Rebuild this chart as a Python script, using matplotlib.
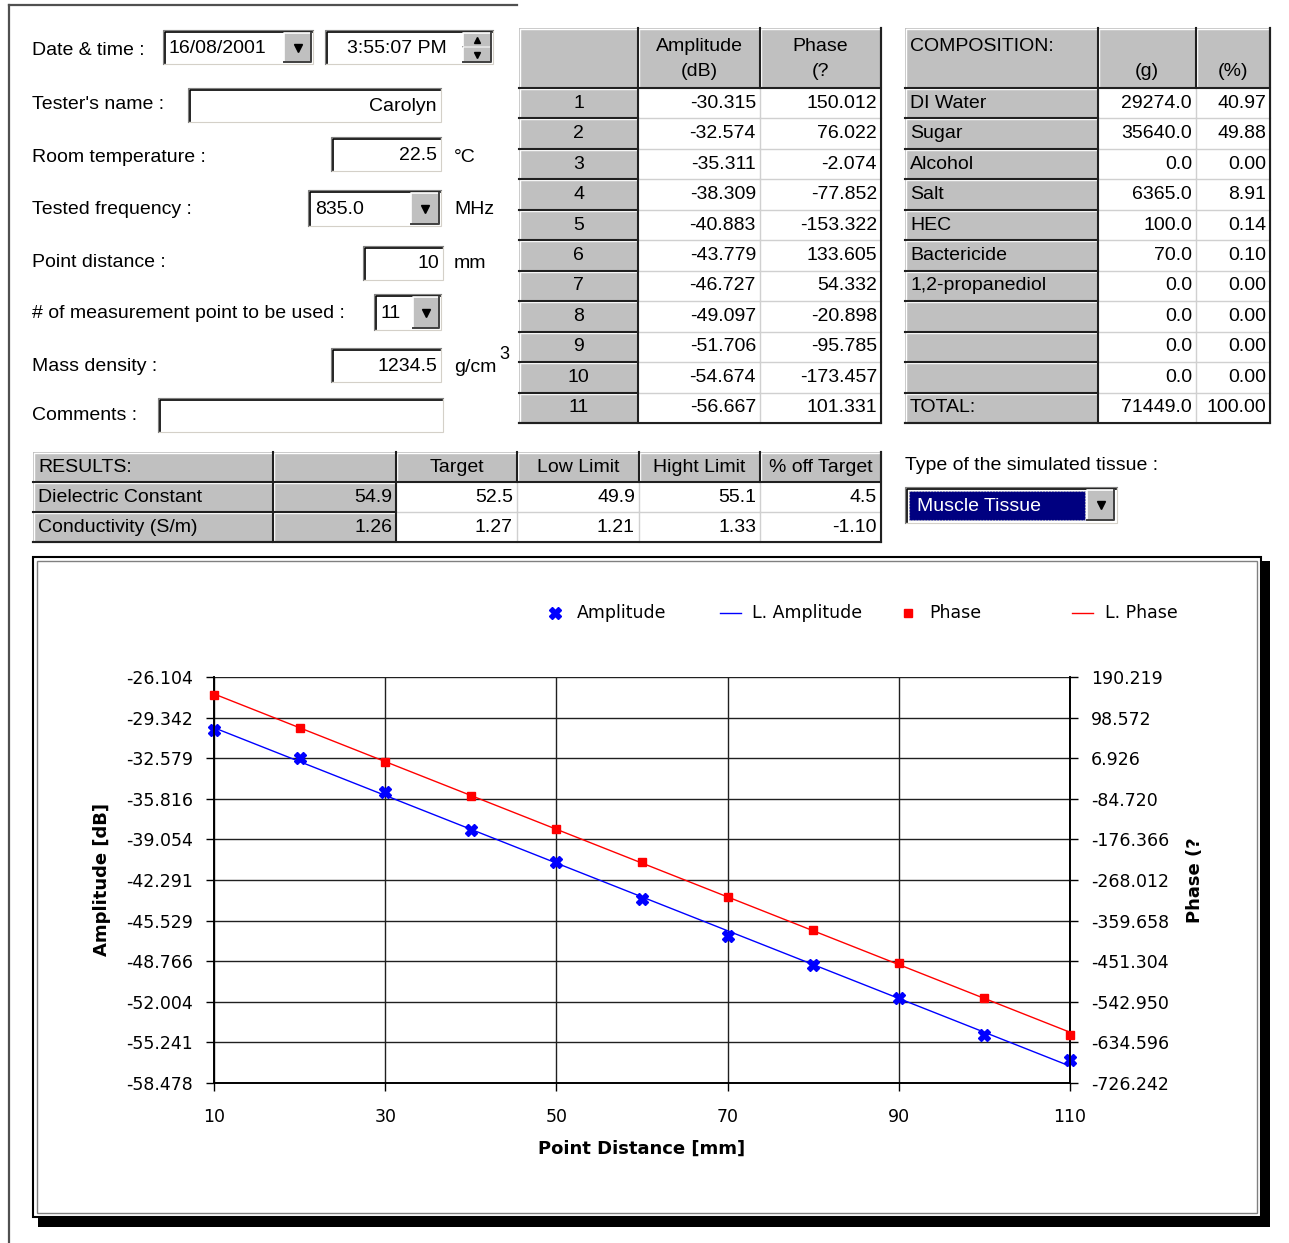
import numpy as np
import matplotlib
matplotlib.use('Agg')
import matplotlib.pyplot as plt
from matplotlib.patches import Rectangle

# ---- measurement table / chart data ----
points = [1, 2, 3, 4, 5, 6, 7, 8, 9, 10, 11]
distance_mm = [10, 20, 30, 40, 50, 60, 70, 80, 90, 100, 110]
amplitude_db = [-30.315, -32.574, -35.311, -38.309, -40.883, -43.779,
                -46.727, -49.097, -51.706, -54.674, -56.667]
phase_deg = [150.012, 76.022, -2.074, -77.852, -153.322, 133.605,
             54.332, -20.898, -95.785, -173.457, 101.331]

# linear trend lines (end values)
trend_x = [10, 110]
trend_amp = [-30.15, -57.13]
trend_phase = [152.0, -611.7]

amp_ticks = [-26.104, -29.342, -32.579, -35.816, -39.054, -42.291,
             -45.529, -48.766, -52.004, -55.241, -58.478]
phase_ticks = [190.219, 98.572, 6.926, -84.720, -176.366, -268.012,
               -359.658, -451.304, -542.950, -634.596, -726.242]
x_ticks = [10, 30, 50, 70, 90, 110]

# ---- composition table ----
comp_names = ['DI Water', 'Sugar', 'Alcohol', 'Salt', 'HEC', 'Bactericide',
              '1,2-propanediol', '', '', '', 'TOTAL:']
comp_grams = [29274.0, 35640.0, 0.0, 6365.0, 100.0, 70.0, 0.0, 0.0, 0.0, 0.0, 71449.0]
comp_pct = [40.97, 49.88, 0.00, 8.91, 0.14, 0.10, 0.00, 0.00, 0.00, 0.00, 100.00]

# ---- results table ----
results_header = ['RESULTS:', '', 'Target', 'Low Limit', 'Hight Limit', '% off Target']
results_names = ['Dielectric Constant', 'Conductivity (S/m)']
results_measured = ['54.9', '1.26']
results_target = ['52.5', '1.27']
results_low = ['49.9', '1.21']
results_high = ['55.1', '1.33']
results_off = ['4.5', '-1.10']

W, H = 1289, 1243
GRAY = '#c0c0c0'
FORM_FONT = 'Liberation Sans'
FS = 14
CFS = 12.5

plt.rcParams['font.family'] = 'DejaVu Sans'
fig = plt.figure(figsize=(W / 100, H / 100), dpi=100)
fig.patch.set_facecolor('white')

ui = fig.add_axes([0, 0, 1, 1])
ui.set_xlim(0, W)
ui.set_ylim(H, 0)
ui.axis('off')


def label(x, y, s, ha='left', color='black', size=FS):
    ui.text(x, y, s, ha=ha, va='center', fontsize=size, family=FORM_FONT,
            color=color, zorder=10)


def sunken(x0, y0, x1, y1, fill='white'):
    ui.add_patch(Rectangle((x0, y0), x1 - x0, y1 - y0, facecolor=fill,
                           edgecolor='#d4d0c8', lw=0.8, zorder=1))
    ui.plot([x0, x0, x1], [y1, y0, y0], color='#808080', lw=0.8, zorder=2)
    ui.plot([x0 + 1.5, x0 + 1.5, x1 - 1.5], [y1 - 1.5, y0 + 1.5, y0 + 1.5],
            color='black', lw=1.2, zorder=2)


def raised(x0, y0, x1, y1, marker=None, ms=6):
    ui.add_patch(Rectangle((x0, y0), x1 - x0, y1 - y0, facecolor=GRAY,
                           edgecolor='none', zorder=3))
    ui.plot([x0, x0, x1], [y1, y0, y0], color='white', lw=1.2, zorder=4)
    ui.plot([x0, x1, x1], [y1, y1, y0], color='#404040', lw=1.4, zorder=4)
    if marker:
        ui.plot((x0 + x1) / 2, (y0 + y1) / 2, marker=marker, color='black',
                ms=ms, zorder=5)


def cell(x0, y0, x1, y1, text='', ha='right', gray=False):
    if gray:
        ui.add_patch(Rectangle((x0, y0), x1 - x0, y1 - y0, facecolor=GRAY,
                               edgecolor='none', zorder=1))
        ui.plot([x0 + 1, x0 + 1, x1], [y1, y0 + 1, y0 + 1], color='white', lw=1, zorder=2)
        ui.plot([x0, x1, x1], [y1, y1, y0], color='#202020', lw=1.5, zorder=3)
    else:
        ui.add_patch(Rectangle((x0, y0), x1 - x0, y1 - y0, facecolor='white',
                               edgecolor='none', zorder=1))
        ui.plot([x0, x1, x1], [y1, y1, y0], color='#d0d0d0', lw=1, zorder=2)
    if text != '':
        if ha == 'right':
            label(x1 - 4, (y0 + y1) / 2, text, ha='right')
        elif ha == 'left':
            label(x0 + 5, (y0 + y1) / 2, text, ha='left')
        else:
            label((x0 + x1) / 2, (y0 + y1) / 2, text, ha='center')


# ---- form frame ----
ui.plot([9, 9], [5, H], color='#505050', lw=1.6, zorder=2)
ui.plot([9, 517], [5, 5], color='#505050', lw=1.6, zorder=2)

# ---- input fields ----
label(32, 50, 'Date & time :')
sunken(163, 30, 313, 64)
label(169, 48, '16/08/2001')
raised(284, 33, 311, 62, 'v')
sunken(325, 30, 493, 64)
label(447, 48, '3:55:07 PM', ha='right')
raised(463, 33, 491, 47, '^', 4)
raised(463, 47, 491, 62, 'v', 4)

label(32, 104, "Tester's name :")
sunken(188, 88, 441, 122)
label(437, 106, 'Carolyn', ha='right')

label(32, 157, 'Room temperature :')
sunken(331, 137, 441, 171)
label(437, 155, '22.5', ha='right')
label(454, 157, '°C')

label(32, 209, 'Tested frequency :')
sunken(308, 190, 441, 226)
label(315, 209, '835.0')
raised(411, 193, 439, 224, 'v')
label(454, 209, 'MHz')

label(32, 262, 'Point distance :')
sunken(363, 246, 443, 280)
label(439, 263, '10', ha='right')
label(454, 263, 'mm')

label(32, 313, '# of measurement point to be used :')
sunken(374, 294, 441, 330)
label(380, 313, '11')
raised(413, 297, 439, 328, 'v')

label(32, 366, 'Mass density :')
sunken(331, 348, 441, 382)
label(437, 366, '1234.5', ha='right')
label(454, 367, 'g/cm')
label(499, 354, '3', size=13)

label(32, 415, 'Comments :')
sunken(158, 398, 443, 432)

# ---- measurement table ----
mcols = [519, 638, 760, 881]
row_top = 88
row_h = (423 - 88) / len(points)
cell(mcols[0], 28, mcols[1], row_top, gray=True)
cell(mcols[1], 28, mcols[2], row_top, gray=True)
cell(mcols[2], 28, mcols[3], row_top, gray=True)
label((mcols[1] + mcols[2]) / 2, 46, 'Amplitude', ha='center')
label((mcols[1] + mcols[2]) / 2, 71, '(dB)', ha='center')
label((mcols[2] + mcols[3]) / 2, 46, 'Phase', ha='center')
label((mcols[2] + mcols[3]) / 2, 71, '(?', ha='center')
for i, (p, a, ph) in enumerate(zip(points, amplitude_db, phase_deg)):
    y0 = row_top + i * row_h
    y1 = y0 + row_h
    cell(mcols[0], y0, mcols[1], y1, str(p), ha='center', gray=True)
    cell(mcols[1], y0, mcols[2], y1, f'{a:.3f}')
    cell(mcols[2], y0, mcols[3], y1, f'{ph:.3f}')
ui.plot([mcols[3], mcols[3]], [28, 423], color='#202020', lw=1.5, zorder=3)
ui.plot([mcols[0], mcols[3]], [423, 423], color='#202020', lw=1.5, zorder=3)

# ---- composition table ----
ccols = [905, 1098, 1196, 1270]
cell(ccols[0], 28, ccols[1], row_top, gray=True)
cell(ccols[1], 28, ccols[2], row_top, gray=True)
cell(ccols[2], 28, ccols[3], row_top, gray=True)
label(ccols[0] + 5, 46, 'COMPOSITION:')
label((ccols[1] + ccols[2]) / 2, 71, '(g)', ha='center')
label((ccols[2] + ccols[3]) / 2, 71, '(%)', ha='center')
for i, (n, g, pc) in enumerate(zip(comp_names, comp_grams, comp_pct)):
    y0 = row_top + i * row_h
    y1 = y0 + row_h
    cell(ccols[0], y0, ccols[1], y1, n, ha='left', gray=True)
    cell(ccols[1], y0, ccols[2], y1, f'{g:.1f}')
    cell(ccols[2], y0, ccols[3], y1, f'{pc:.2f}')
ui.plot([ccols[3], ccols[3]], [28, 423], color='#202020', lw=1.5, zorder=3)
ui.plot([ccols[0], ccols[3]], [423, 423], color='#202020', lw=1.5, zorder=3)

# ---- results table ----
rcols = [33, 273, 396, 517, 639, 760, 881]
rrows = [452, 482, 512, 542]
for j, h in enumerate(results_header):
    cell(rcols[j], rrows[0], rcols[j + 1], rrows[1], h,
         ha='left' if j == 0 else 'center', gray=True)
for i, name in enumerate(results_names):
    y0, y1 = rrows[i + 1], rrows[i + 2]
    cell(rcols[0], y0, rcols[1], y1, name, ha='left', gray=True)
    cell(rcols[1], y0, rcols[2], y1, results_measured[i], gray=True)
    cell(rcols[2], y0, rcols[3], y1, results_target[i])
    cell(rcols[3], y0, rcols[4], y1, results_low[i])
    cell(rcols[4], y0, rcols[5], y1, results_high[i])
    cell(rcols[5], y0, rcols[6], y1, results_off[i])
ui.plot([rcols[6], rcols[6]], [rrows[0], rrows[3]], color='#202020', lw=1.5, zorder=3)
ui.plot([rcols[0], rcols[6]], [rrows[3], rrows[3]], color='#202020', lw=1.5, zorder=3)

# ---- tissue selector ----
label(905, 465, 'Type of the simulated tissue :')
sunken(905, 487, 1117, 523)
ui.add_patch(Rectangle((909, 491), 176, 29, facecolor='#000080',
                       edgecolor='#c8c8c8', lw=0.8, ls=':', zorder=3))
label(917, 506, 'Muscle Tissue', color='white')
raised(1087, 490, 1114, 520, 'v')

# ---- chart panel frame ----
ui.add_patch(Rectangle((1262, 561), 8, 666, facecolor='black', edgecolor='none', zorder=1))
ui.add_patch(Rectangle((38, 1217), 1232, 10, facecolor='black', edgecolor='none', zorder=1))
ui.add_patch(Rectangle((33, 557), 1228, 660, facecolor='white', edgecolor='black',
                       lw=1.5, zorder=2))
ui.add_patch(Rectangle((37, 561), 1220, 652, facecolor='none', edgecolor='#808080',
                       lw=1.0, zorder=3))

# ---- legend ----
ly = 613
ui.plot(555, ly, marker='X', color='#0000ff', ms=9, zorder=5)
ui.text(577, ly, 'Amplitude', va='center', fontsize=CFS, zorder=5)
ui.plot([720, 741], [ly, ly], color='#0000ff', lw=1, zorder=5)
ui.text(752, ly, 'L. Amplitude', va='center', fontsize=CFS, zorder=5)
ui.plot(908, ly, marker='s', color='#ff0000', ms=6, zorder=5)
ui.text(929, ly, 'Phase', va='center', fontsize=CFS, zorder=5)
ui.plot([1072, 1093], [ly, ly], color='#ff0000', lw=1, zorder=5)
ui.text(1105, ly, 'L. Phase', va='center', fontsize=CFS, zorder=5)

# ---- chart ----
x_left, x_right, y_top, y_bot = 214, 1070, 677, 1083
ax = fig.add_axes([x_left / W, (H - y_bot) / H, (x_right - x_left) / W, (y_bot - y_top) / H])
ax.set_zorder(2)
ax.patch.set_visible(False)
ax2 = ax.twinx()
ax2.set_zorder(3)
ax2.patch.set_visible(False)

phase_plot = np.unwrap(np.asarray(phase_deg), period=360)

ax.plot(trend_x, trend_amp, color='#0000ff', lw=1, clip_on=False, zorder=3)
ax.plot(distance_mm, amplitude_db, ls='none', marker='X', color='#0000ff', ms=9,
        clip_on=False, zorder=4)
ax2.plot(trend_x, trend_phase, color='#ff0000', lw=1, clip_on=False, zorder=3)
ax2.plot(distance_mm, phase_plot, ls='none', marker='s', color='#ff0000', ms=6,
         clip_on=False, zorder=4)

ax.set_xlim(10, 110)
ax.set_xticks(x_ticks)
ax.set_xticklabels([str(v) for v in x_ticks])
ax.set_ylim(amp_ticks[-1], amp_ticks[0])
ax.set_yticks(amp_ticks)
ax.set_yticklabels([f'{v:.3f}' for v in amp_ticks])
ax2.set_ylim(phase_ticks[-1], phase_ticks[0])
ax2.set_yticks(phase_ticks)
ax2.set_yticklabels([f'{v:.3f}' for v in phase_ticks])

ax.grid(True, color='#202020', lw=1.0)
ax.tick_params(axis='y', direction='out', length=6, width=1, pad=9, labelsize=CFS)
ax.tick_params(axis='x', direction='out', length=6, width=1, pad=12, labelsize=CFS)
ax2.tick_params(axis='y', direction='out', length=6, width=1, pad=9, labelsize=CFS)
for a in (ax, ax2):
    a.spines['top'].set_visible(False)
    for s in ('left', 'right', 'bottom'):
        a.spines[s].set_color('black')
        a.spines[s].set_linewidth(1.2)

ax.set_xlabel('Point Distance [mm]', fontsize=13, fontweight='bold')
ax.xaxis.set_label_coords(0.5, -0.140)
ax.set_ylabel('Amplitude [dB]', fontsize=13, fontweight='bold')
ax.yaxis.set_label_coords(-0.120, 0.5)
ax2.set_ylabel('Phase (?', fontsize=13, fontweight='bold', rotation=90)
ax2.yaxis.set_label_coords(1.1355, 0.5)

fig.savefig('out.png', dpi=100)
